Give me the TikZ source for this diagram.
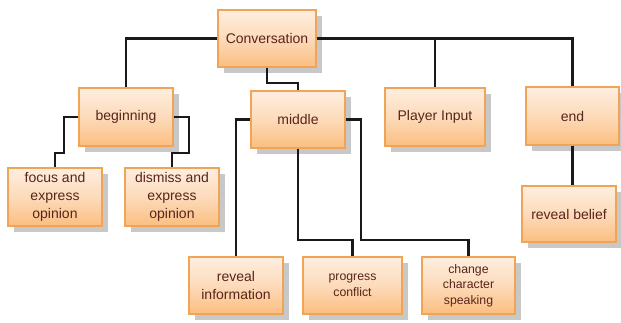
\documentclass[tikz,border=0pt]{standalone}
\usepackage{fontspec}
\setmainfont{Liberation Sans}
\usetikzlibrary{shadows}
\definecolor{boxtop}{RGB}{254,238,224}
\definecolor{boxbot}{RGB}{251,190,128}
\definecolor{boxline}{RGB}{240,164,88}
\definecolor{txt}{RGB}{88,36,28}
\definecolor{shad}{RGB}{200,200,200}
\definecolor{wire}{RGB}{25,25,25}
\tikzset{
  box/.style={draw=boxline, line width=1.4pt, top color=boxtop, bottom color=boxbot,
    middle color=boxtop!60!boxbot,
    text=txt, align=center, inner sep=0pt,
    font=\fontsize{14}{18}\selectfont,
    drop shadow={shadow xshift=6pt, shadow yshift=-6pt, fill=shad, opacity=1}},
  small/.style={font=\fontsize{12.3}{15.5}\selectfont},
  wirel/.style={draw=wire, line width=2.2pt}
}
\begin{document}
\begin{tikzpicture}[x=1pt,y=-1pt]
\useasboundingbox (0,0) rectangle (621,323);
\node[box, minimum width=98pt, minimum height=57pt] (conv) at (267,38.5) {Conversation};
\node[box, minimum width=94pt, minimum height=58pt] (beg) at (126,117) {beginning};
\node[box, minimum width=94pt, minimum height=57pt] (mid) at (298,119.5) {middle};
\node[box, minimum width=100pt, minimum height=58pt] (player) at (435,117) {Player Input};
\node[box, minimum width=93pt, minimum height=58pt] (end) at (572.5,116) {end};
\node[box, minimum width=94pt, minimum height=58pt] (focus) at (55,197) {focus and\\express\\opinion};
\node[box, minimum width=94pt, minimum height=58pt] (dismiss) at (172,197) {dismiss and\\express\\opinion};
\node[box, minimum width=94pt, minimum height=57pt] (revinfo) at (236,285.5) {reveal\\information};
\node[box, small, minimum width=99pt, minimum height=57pt] (progress) at (352.5,285.5) {progress\\conflict};
\node[box, small, minimum width=93pt, minimum height=57pt] (change) at (468.5,285.5) {change\\character\\speaking};
\node[box, minimum width=94pt, minimum height=56pt] (belief) at (569,214) {reveal belief};

\begin{scope}[wirel]
\draw (conv.west) -| (beg.north);
\draw (conv.east) -| (player.north);
\draw (conv.east) -| (end.north);
\draw (conv.south) -- ++(0,15) -| (mid.north);
\draw (beg.west) -- ++(-14,0) |- ([yshift=14pt]focus.north) -- (focus.north);
\draw (beg.east) -- ++(15,0) |- ([yshift=14pt]dismiss.north) -- (dismiss.north);
\draw (mid.west) -| (revinfo.north);
\draw (mid.south) |- ([yshift=16pt]progress.north) -- (progress.north);
\draw (mid.east) -- ++(15,0) |- ([yshift=16pt]change.north) -- (change.north);
\draw (end.south) -- (end.south |- belief.north);
\end{scope}
\end{tikzpicture}
\end{document}
